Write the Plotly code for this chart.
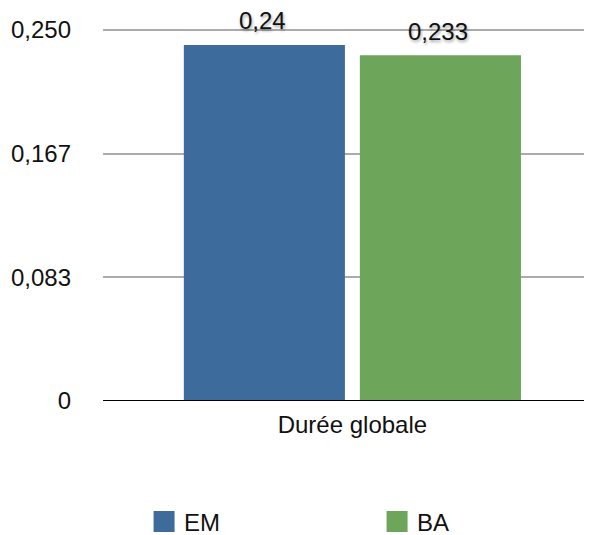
import plotly.graph_objects as go

categories = ["Durée globale"]
series_names = ["EM", "BA"]
em_values = [0.24]
ba_values = [0.233]
value_labels = ["0,24", "0,233"]
tick_vals = [0, 0.0833, 0.1667, 0.25]
tick_text = ["0", "0,083", "0,167", "0,250"]

colors = ["#3d6b9c", "#6da55a"]
FONT = "Liberation Sans, Arial, Helvetica, sans-serif"
FS = 24

fig = go.Figure()
for name, vals, col in zip(series_names, [em_values, ba_values], colors):
    fig.add_trace(go.Bar(x=categories, y=vals, name=name, marker=dict(color=col, line=dict(width=0)),
                         showlegend=False))
    # legend proxy
    fig.add_trace(go.Scatter(x=[None], y=[None], mode="markers", name=name,
                             marker=dict(symbol="square", size=16, color=col,
                                         line=dict(color=col, width=5))))

# value labels above bars
offsets = [-88, 88]
for vals, lab, off in zip([em_values, ba_values], value_labels, offsets):
    fig.add_annotation(x=categories[0], y=vals[0], xref="x", yref="y", text=lab,
                       showarrow=False, xshift=off - 2, yshift=24,
                       font=dict(family=FONT, size=FS, color="#111",
                                 shadow="1px 2px 3px rgba(0,0,0,0.35)"))

# baseline
fig.add_shape(type="line", xref="paper", yref="y", x0=0, x1=1, y0=0, y1=0,
              line=dict(color="black", width=2))

# page body has an 8px margin; figure sized so plot area lands at the same page position
fig.update_layout(
    width=584, height=527,
    margin=dict(l=95, r=0, t=21, b=134, autoexpand=False),
    paper_bgcolor="white", plot_bgcolor="white",
    barmode="group", bargap=0.28, bargroupgap=0.085,
    font=dict(family=FONT, size=FS, color="#111"),
    xaxis=dict(range=[-0.51, 0.49], showgrid=False, zeroline=False, automargin=False,
               showline=False, ticks="", ticklabelstandoff=7, tickfont=dict(size=FS)),
    yaxis=dict(range=[0, 0.2507], tickvals=tick_vals, ticktext=tick_text, showgrid=True,
               gridcolor="#ababab", gridwidth=2, zeroline=False, showline=False,
               automargin=False, ticklabelstandoff=31, tickfont=dict(size=FS)),
    legend=dict(orientation="h", x=0.084, xanchor="left", y=-0.325, yanchor="middle",
                entrywidth=188, entrywidthmode="pixels", font=dict(size=FS),
                itemsizing="trace"),
)

fig.write_html("out.html")
